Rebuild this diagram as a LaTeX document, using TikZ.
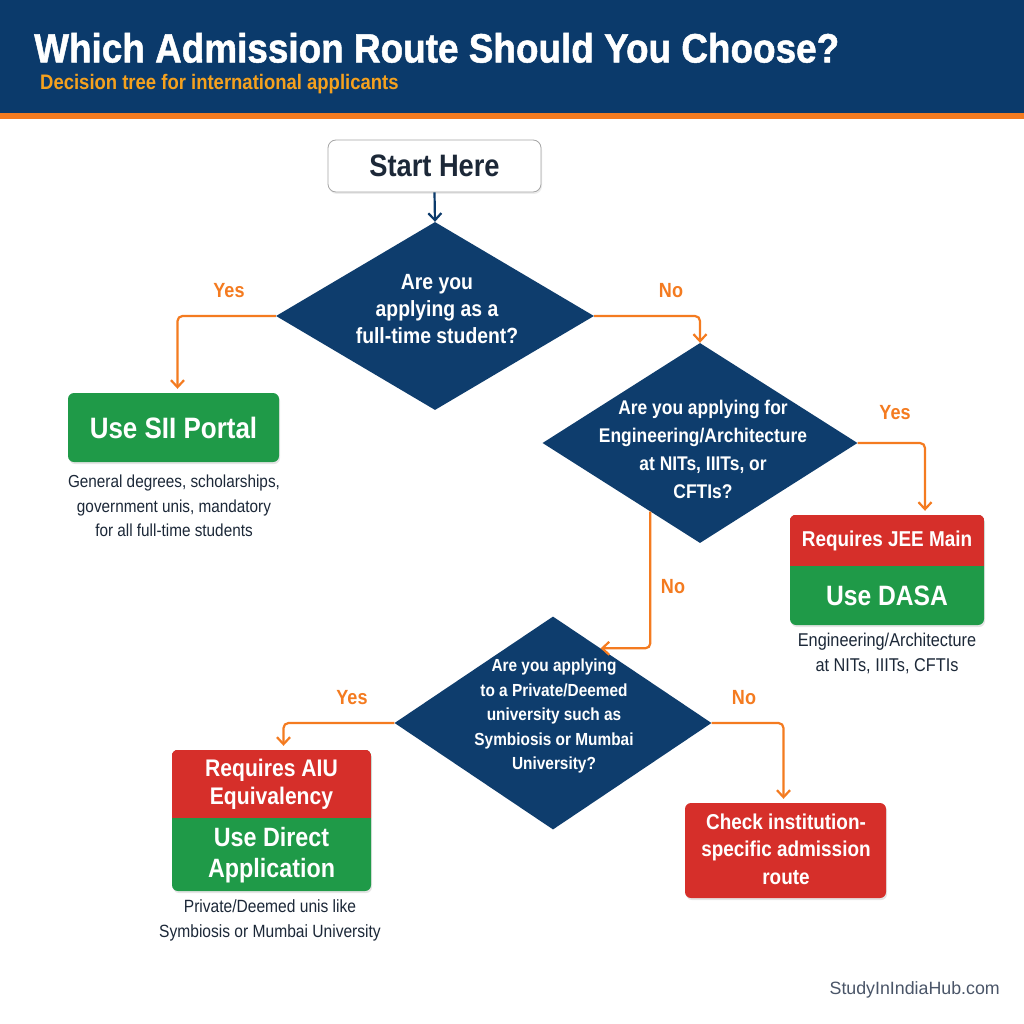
\documentclass[tikz,border=0pt]{standalone}
\usepackage{fontspec}
\setmainfont{Liberation Sans}
\newfontfamily\condf[FakeStretch=0.88]{Liberation Sans}
\newfontfamily\titlef[FakeStretch=0.9,FakeBold=1.2]{Liberation Sans}
\usetikzlibrary{arrows.meta,shapes.geometric,calc,shadows}
\definecolor{navy}{HTML}{0B3A6B}
\definecolor{diac}{HTML}{0E3D6D}
\definecolor{orng}{HTML}{F47B20}
\definecolor{subc}{HTML}{F5A11E}
\definecolor{grn}{HTML}{1F9A48}
\definecolor{redb}{HTML}{D62F2A}
\definecolor{txtc}{HTML}{1C2838}
\definecolor{footc}{HTML}{4A5568}
\tikzset{
  startbox/.style={draw=black!35, line width=0.8pt, fill=white, rounded corners=8pt,
    minimum width=213pt, minimum height=52pt, text=txtc, inner sep=0pt,
    drop shadow={opacity=0.15, shadow xshift=1pt, shadow yshift=-2pt},
    font=\condf\bfseries\fontsize{31}{34}\selectfont},
  diabox/.style={diamond, fill=diac, inner sep=0pt, draw=none},
  diatext/.style={text=white, align=center, inner sep=0pt},
  resbox/.style={rectangle, rounded corners=6pt, inner sep=0pt, draw=none,
    drop shadow={opacity=0.2, shadow xshift=1pt, shadow yshift=-2pt}},
  boxtext/.style={text=white, align=center, inner sep=0pt},
  caption/.style={text=txtc, align=center, inner sep=0pt},
  lbl/.style={text=orng, inner sep=0pt, font=\condf\bfseries\fontsize{20.5}{23}\selectfont},
  oarrow/.style={draw=orng, line width=2.2pt, rounded corners=5pt,
    -{Straight Barb[length=7pt,width=13pt,line width=2.2pt]}},
  narrow/.style={draw=navy, line width=2.2pt,
    -{Straight Barb[length=7pt,width=13pt,line width=2.2pt]}},
}
\begin{document}
\begin{tikzpicture}[x=1pt,y=-1pt]
\useasboundingbox (0,0) rectangle (1024,1024);
\fill[white] (0,0) rectangle (1024,1024);
% header
\fill[navy] (0,0) rectangle (1024,113);
\fill[orng] (0,113) rectangle (1024,119);
\node[anchor=base west, inner sep=0pt, text=white, font=\titlef\bfseries\fontsize{41}{44}\selectfont] (title) at (34,62.5) {Which Admission Route Should You Choose?};
\node[anchor=base west, inner sep=0pt, text=subc, font=\condf\bfseries\fontsize{21}{23}\selectfont] (subtitle) at (40,90) {Decision tree for international applicants};

% start
\node[startbox] (start) at (434.5,166) {Start Here};

% diamonds
\node[diabox, minimum width=318pt, minimum height=188pt] (d1) at (435,316) {};
\node[diatext, font=\condf\bfseries\fontsize{22}{27}\selectfont] (d1t) at (437,309) {Are you\\applying as a\\full-time student?};

\node[diabox, minimum width=315pt, minimum height=200pt] (d2) at (700,443) {};
\node[diatext, font=\condf\bfseries\fontsize{19.8}{28}\selectfont] (d2t) at (703,449) {Are you applying for\\Engineering/Architecture\\at NITs, IIITs, or\\CFTIs?};

\node[diabox, minimum width=317pt, minimum height=213pt] (d3) at (553,723) {};
\node[diatext, font=\condf\bfseries\fontsize{17.5}{24.5}\selectfont] (d3t) at (554,716) {Are you applying\\to a Private/Deemed\\university such as\\Symbiosis or Mumbai\\University?};

% SII box
\node[resbox, fill=grn, minimum width=211pt, minimum height=69pt] (sii) at (173.5,427.5) {};
\node[boxtext, font=\condf\bfseries\fontsize{29.5}{32}\selectfont] (siit) at (sii) {Use SII Portal};
\node[caption, font=\condf\fontsize{17.4}{24.5}\selectfont] (siic) at (174,506) {General degrees, scholarships,\\government unis, mandatory\\for all full-time students};

% DASA box
\node[resbox, fill=grn, minimum width=194pt, minimum height=110pt] (dasa) at (887,570) {};
\begin{scope}
  \clip[rounded corners=6pt] (dasa.north west) rectangle (dasa.south east);
  \fill[redb] (dasa.north west) rectangle ($(dasa.east |- 0,566)$);
\end{scope}
\node[boxtext, font=\condf\bfseries\fontsize{21.5}{24}\selectfont] (dasar) at (887,541) {Requires JEE Main};
\node[boxtext, font=\condf\bfseries\fontsize{28}{30}\selectfont] (dasag) at (887,596) {Use DASA};
\node[caption, font=\condf\fontsize{18.5}{25}\selectfont] (dasac) at (887,653) {Engineering/Architecture\\at NITs, IIITs, CFTIs};

% AIU box
\node[resbox, fill=grn, minimum width=199pt, minimum height=141pt] (aiu) at (271.5,820.5) {};
\begin{scope}
  \clip[rounded corners=6pt] (aiu.north west) rectangle (aiu.south east);
  \fill[redb] (aiu.north west) rectangle ($(aiu.east |- 0,818)$);
\end{scope}
\node[boxtext, font=\condf\bfseries\fontsize{24}{28}\selectfont] (aiur) at (271.5,784) {Requires AIU\\Equivalency};
\node[boxtext, font=\condf\bfseries\fontsize{26.5}{31}\selectfont] (aiug) at (271.5,855) {Use Direct\\Application};
\node[caption, font=\condf\fontsize{17.7}{25}\selectfont] (aiuc) at (270,920) {Private/Deemed unis like\\Symbiosis or Mumbai University};

% check box
\node[resbox, fill=redb, minimum width=201pt, minimum height=95pt] (chk) at (785.5,850.5) {};
\node[boxtext, font=\condf\bfseries\fontsize{21.5}{27.5}\selectfont] (chkt) at (786,849) {Check institution-\\specific admission\\route};

% connectors
\draw[narrow] (start.south) -- (d1.north);
\draw[oarrow] (d1.west) -| ($(sii.north)+(4,-4)$);
\draw[oarrow] (d1.east) -| (d2.north);
\draw[oarrow] (d2.east) -| ($(dasa.north)+(38,-4)$);
\coordinate (d2out) at ($(d2.west)!0.685!(d2.south)$);
\coordinate (d3in) at ($(d3.north)!0.3!(d3.east)$);
\draw[oarrow] (d2out) |- (d3in);
\draw[oarrow] (d3.west) -| ($(aiu.north)+(12,-4)$);
\draw[oarrow] (d3.east) -| ($(chk.north)+(-2,-4)$);

% labels
\node[lbl] (l1) at (229,291) {Yes};
\node[lbl] (l2) at (671,291) {No};
\node[lbl] (l3) at (895,413) {Yes};
\node[lbl] (l4) at (673,587) {No};
\node[lbl] (l5) at (352,698) {Yes};
\node[lbl] (l6) at (744,698) {No};

% footer
\node[anchor=base east, inner sep=0pt, text=footc, font=\fontsize{17.8}{20}\selectfont] (foot) at (1000,994) {StudyInIndiaHub.com};
\end{tikzpicture}
\end{document}
